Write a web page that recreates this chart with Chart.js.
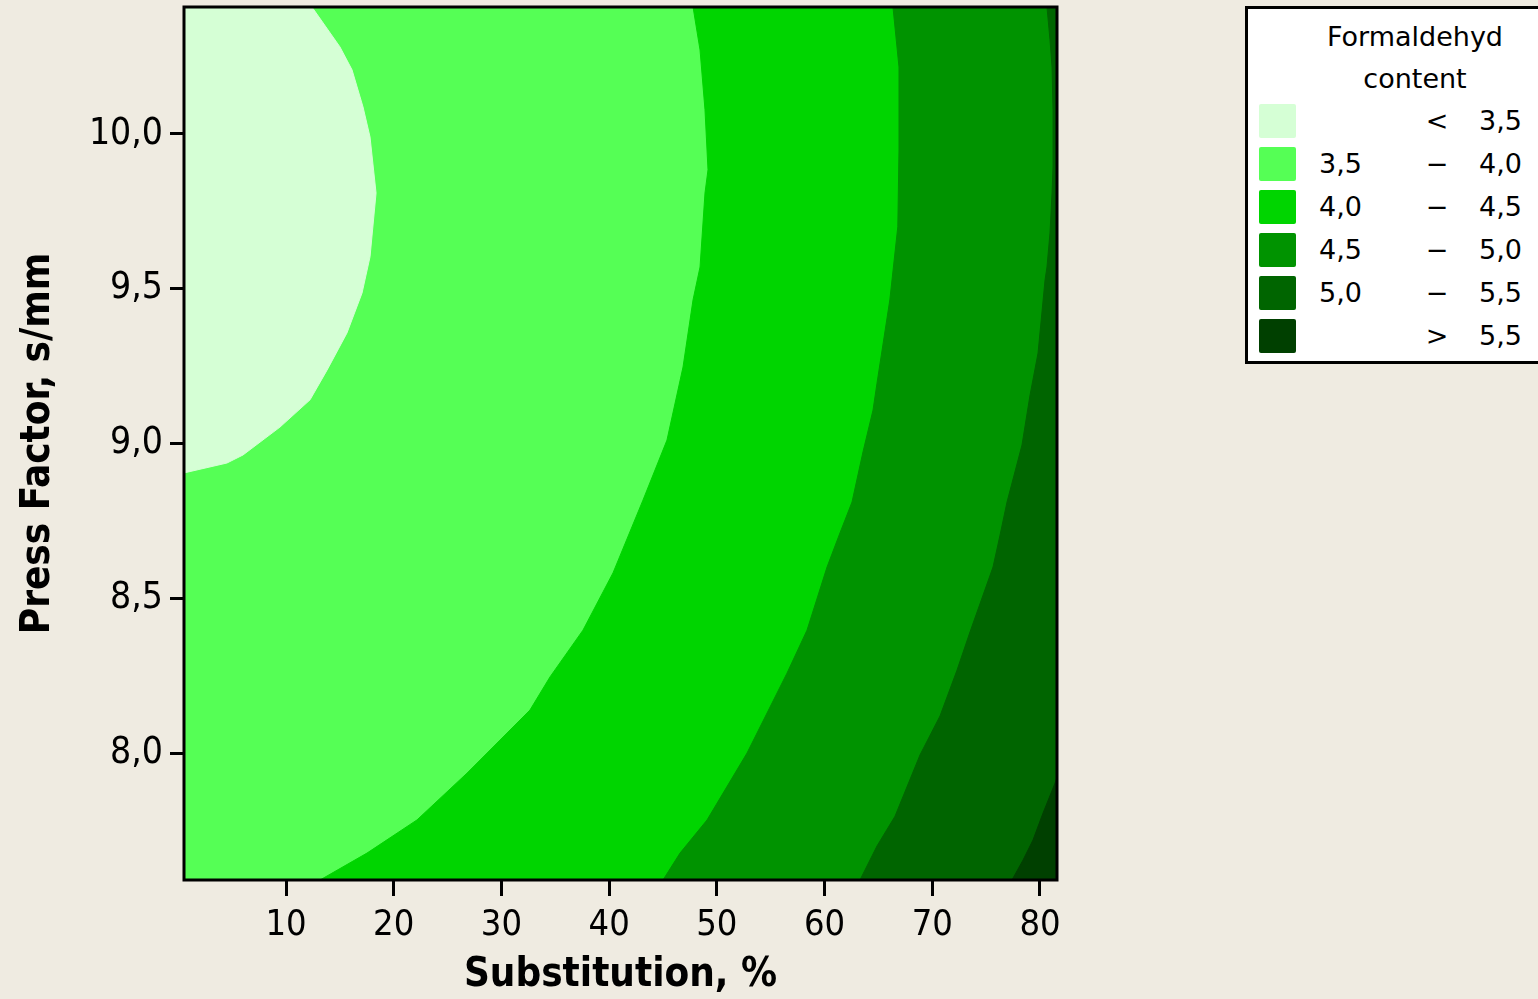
<!DOCTYPE html>
<html>
<head>
<meta charset="utf-8">
<script src="https://cdn.jsdelivr.net/npm/chart.js@4.4.1/dist/chart.umd.min.js"></script>
<style>
  body { margin: 0; background: #efebe1; }
  #wrap { position: relative; width: 1538px; height: 999px; overflow: hidden; }
  #chart { position: absolute; left: 0; top: 0; }
  .lg { position: absolute; font-family: "DejaVu Sans", sans-serif; font-size: 27px; color: #000; white-space: nowrap; }
  #legendBox { position: absolute; left: 1245px; top: 6px; width: 300px; height: 358px; background: #fff; border: 3px solid #000; box-sizing: border-box; }
  .sw { position: absolute; border-radius: 2px; }
</style>
</head>
<body>
<div id="wrap">
  <canvas id="chart" width="1538" height="999"></canvas>
  <div id="legendBox"></div>
</div>
<script>
// axis setup
const xTicks = [10, 20, 30, 40, 50, 60, 70, 80];
const yTicks = [8.0, 8.5, 9.0, 9.5, 10.0];
const xRange = [0.53, 81.58];
const yRange = [7.59, 10.41];

// contour levels and band colours (low -> high)
const levels = [3.5, 4.0, 4.5, 5.0, 5.5];
const bandColors = ['#d5ffd5', '#55ff55', '#00d500', '#009300', '#006500', '#004000'];

// contour lines, [substitution, press factor], bottom to top
const contour35 = [[0.53, 8.905], [4.52, 8.937], [6.01, 8.963], [9.44, 9.053], [12.23, 9.141], [13.81, 9.237],
  [15.66, 9.357], [17.06, 9.486], [17.80, 9.603], [18.36, 9.809], [17.80, 9.990], [17.15, 10.087],
  [16.13, 10.207], [15.01, 10.281], [12.41, 10.41]];
const contour40 = [[13.16, 7.59], [17.52, 7.677], [22.16, 7.784], [26.80, 7.935], [29.87, 8.042], [32.65, 8.139],
  [34.51, 8.246], [37.57, 8.397], [40.36, 8.582], [43.14, 8.817], [45.37, 9.011], [46.86, 9.247],
  [47.79, 9.464], [48.44, 9.570], [48.90, 9.809], [49.18, 9.884], [48.90, 10.078], [48.44, 10.271], [47.79, 10.41]];
const contour45 = [[45.00, 7.59], [46.58, 7.677], [49.09, 7.784], [52.80, 8.000], [56.51, 8.258], [58.37, 8.397],
  [60.23, 8.601], [61.43, 8.711], [62.55, 8.811], [63.57, 8.973], [64.50, 9.108], [64.87, 9.195],
  [66.06, 9.464], [66.80, 9.700], [66.91, 9.948], [66.91, 10.216], [66.35, 10.41]];
const contour50 = [[63.29, 7.59], [64.87, 7.700], [66.54, 7.796], [68.86, 7.994], [70.72, 8.120], [72.30, 8.268],
  [73.50, 8.391], [75.64, 8.601], [76.29, 8.704], [76.94, 8.811], [78.33, 8.995], [79.08, 9.157],
  [79.82, 9.292], [80.47, 9.528], [80.65, 9.570], [80.93, 9.680], [81.12, 9.809], [81.21, 9.893],
  [81.21, 10.078], [81.12, 10.216], [80.93, 10.304], [80.65, 10.41]];
const contour55 = [[77.40, 7.59], [78.42, 7.654], [79.35, 7.719], [80.28, 7.806], [81.40, 7.903], [81.58, 7.922]];

const fmt = v => v.toFixed(1).replace('.', ',');
const AXIS_FONT = '"DejaVu Sans Condensed", "DejaVu Sans", sans-serif';

function contourSet(label, pts, color, fillTo, order) {
  return {
    label: label,
    data: pts.map(p => ({ x: p[0], y: p[1] })),
    borderColor: color,
    borderWidth: 1,
    backgroundColor: color,
    pointRadius: 0,
    pointHoverRadius: 0,
    tension: 0,
    fill: { value: fillTo },
    order: order,
  };
}

const plotFrame = {
  id: 'plotFrame',
  beforeDatasetsDraw(chart) {
    const { ctx, chartArea: a } = chart;
    ctx.save();
    ctx.fillStyle = bandColors[1];
    ctx.fillRect(a.left, a.top, a.right - a.left, a.bottom - a.top);
    ctx.restore();
  },
  afterDraw(chart) {
    const { ctx, chartArea: a } = chart;
    ctx.save();
    ctx.strokeStyle = '#000';
    ctx.lineWidth = 3;
    ctx.strokeRect(a.left, a.top, a.right - a.left, a.bottom - a.top);
    ctx.restore();
  },
};

new Chart(document.getElementById('chart'), {
  type: 'line',
  data: {
    datasets: [
      contourSet('< 3,5', contour35, bandColors[0], xRange[0], 1),
      contourSet('4,0', contour40, bandColors[2], xRange[1], 6),
      contourSet('4,5', contour45, bandColors[3], xRange[1], 5),
      contourSet('5,0', contour50, bandColors[4], xRange[1], 4),
      contourSet('5,5', contour55, bandColors[5], xRange[1], 3),
    ],
  },
  options: {
    indexAxis: 'y',
    responsive: false,
    animation: false,
    devicePixelRatio: 1,
    events: [],
    layout: { padding: { left: 0, top: 7, right: 481, bottom: 0 } },
    plugins: {
      legend: { display: false },
      tooltip: { enabled: false },
    },
    scales: {
      x: {
        type: 'linear',
        min: xRange[0],
        max: xRange[1],
        afterBuildTicks: axis => { axis.ticks = xTicks.map(v => ({ value: v })); },
        afterFit: scale => { scale.height = 119; scale.paddingLeft = 0; scale.paddingRight = 0; },
        border: { display: false },
        grid: { drawOnChartArea: false, drawTicks: true, tickLength: 16, tickWidth: 3, tickColor: '#000' },
        ticks: { color: '#000', padding: 8, maxRotation: 0, font: { family: AXIS_FONT, size: 36 } },
        title: {
          display: true,
          text: 'Substitution, %',
          color: '#000',
          font: { family: AXIS_FONT, size: 40, weight: 'bold', lineHeight: 1.05 },
          padding: { top: 0, bottom: 2 },
        },
      },
      y: {
        type: 'linear',
        min: yRange[0],
        max: yRange[1],
        afterBuildTicks: axis => { axis.ticks = yTicks.map(v => ({ value: v })); },
        afterFit: scale => { scale.width = 184; scale.paddingTop = 0; scale.paddingBottom = 0; },
        border: { display: false },
        grid: { drawOnChartArea: false, drawTicks: true, tickLength: 14, tickWidth: 3, tickColor: '#000' },
        ticks: { color: '#000', padding: 7, callback: v => fmt(v), font: { family: AXIS_FONT, size: 37 } },
        title: {
          display: true,
          text: 'Press Factor, s/mm',
          color: '#000',
          font: { family: AXIS_FONT, size: 40, weight: 'bold' },
          padding: { top: 15, bottom: 0 },
        },
      },
    },
  },
  plugins: [plotFrame],
});

// legend
const wrap = document.getElementById('wrap');
function addText(text, left, top, width, align) {
  const d = document.createElement('div');
  d.className = 'lg';
  d.textContent = text;
  d.style.left = left + 'px';
  d.style.top = top + 'px';
  d.style.width = width + 'px';
  d.style.textAlign = align;
  d.style.lineHeight = '42px';
  wrap.appendChild(d);
}
addText('Formaldehyd', 1300, 16, 230, 'center');
addText('content', 1300, 58, 230, 'center');
bandColors.forEach((c, i) => {
  const cy = 121 + i * 43;
  const sw = document.createElement('div');
  sw.className = 'sw';
  sw.style.left = '1259px';
  sw.style.top = (cy - 17) + 'px';
  sw.style.width = '37px';
  sw.style.height = '34px';
  sw.style.background = c;
  wrap.appendChild(sw);
  let lo = '', sym = '\u2212', hi = '';
  if (i === 0) { sym = '<'; hi = fmt(levels[0]); }
  else if (i === bandColors.length - 1) { sym = '>'; hi = fmt(levels[levels.length - 1]); }
  else { lo = fmt(levels[i - 1]); hi = fmt(levels[i]); }
  addText(lo, 1300, cy - 21, 62, 'right');
  addText(sym, 1417, cy - 21, 40, 'center');
  addText(hi, 1470, cy - 21, 52, 'right');
});
</script>
</body>
</html>
